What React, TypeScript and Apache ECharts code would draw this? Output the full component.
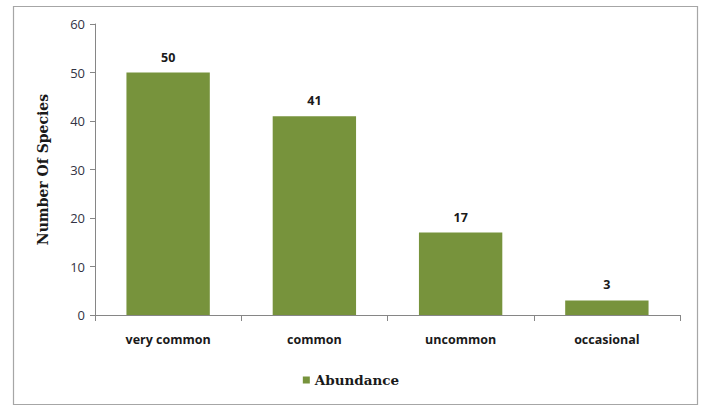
import React, { useEffect, useRef } from "react";
import * as echarts from "echarts";

const categories = ["very common", "common", "uncommon", "occasional"];
const abundance = [50, 41, 17, 3];
const yTicks = { min: 0, max: 60, interval: 10 };

export default function App() {
  const ref = useRef<HTMLDivElement>(null);
  useEffect(() => {
    if (!ref.current) return;
    const chart = echarts.init(ref.current, null, { renderer: "svg" });
    chart.setOption({
      animation: false,
      backgroundColor: "#ffffff",
      graphic: [
        {
          type: "rect",
          shape: { x: 13.5, y: 6.5, width: 684, height: 398 },
          style: { fill: "none", stroke: "#a6a6a6", lineWidth: 1.2 },
        },
      ],
      grid: { left: 95, right: 22, top: 24, bottom: 91, containLabel: false },
      legend: {
        bottom: 14,
        left: "center",
        itemWidth: 7,
        itemHeight: 7,
        itemGap: 5,
        icon: "rect",
        textStyle: {
          fontFamily: "DejaVu Serif",
          fontWeight: "bold",
          fontSize: 13.5,
          color: "#1a1a1a",
        },
        data: ["Abundance"],
      },
      xAxis: {
        type: "category",
        data: categories,
        axisLine: { lineStyle: { color: "#868686" } },
        axisTick: { show: true, length: 6, lineStyle: { color: "#868686" } },
        axisLabel: {
          margin: 18,
          fontFamily: "Open Sans",
          fontWeight: "bold",
          fontSize: 12.5,
          color: "#1a1a1a",
        },
      },
      yAxis: {
        type: "value",
        min: yTicks.min,
        max: yTicks.max,
        interval: yTicks.interval,
        name: "Number Of Species",
        nameLocation: "middle",
        nameGap: 45,
        nameTextStyle: {
          fontFamily: "DejaVu Serif",
          fontWeight: "bold",
          fontSize: 14,
          color: "#1a1a1a",
        },
        axisLine: { show: true, lineStyle: { color: "#868686" } },
        axisTick: { show: true, length: 5, lineStyle: { color: "#868686" } },
        splitLine: { show: false },
        axisLabel: {
          margin: 10,
          fontFamily: "Open Sans",
          fontSize: 13,
          color: "#333344",
        },
      },
      series: [
        {
          name: "Abundance",
          type: "bar",
          data: abundance,
          barWidth: "57%",
          itemStyle: { color: "#77933c" },
          label: {
            show: true,
            position: "top",
            distance: 9,
            fontFamily: "Open Sans",
            fontWeight: "bold",
            fontSize: 12.5,
            color: "#1a1a1a",
          },
        },
      ],
    });
    return () => chart.dispose();
  }, []);
  return <div ref={ref} style={{ width: 702, height: 406, position: "absolute", left: 0, top: 0 }} />;
}
